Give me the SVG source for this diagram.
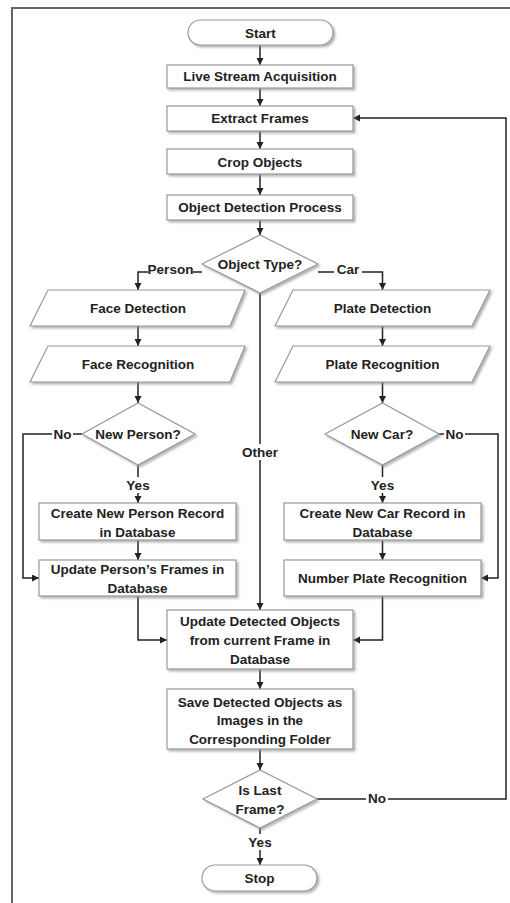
<svg xmlns="http://www.w3.org/2000/svg" width="510" height="903" viewBox="0 0 510 903">
<style>
.shape{fill:#fff;stroke:#999;stroke-width:1.2;filter:url(#sh)}
.t{font-family:"Liberation Sans",Arial,sans-serif;font-weight:bold;font-size:13.5px;fill:#222;text-anchor:middle}
.c{fill:none;stroke:#222;stroke-width:1.5}
.a{marker-end:url(#ar)}
.lb{fill:#fff}
</style>
<defs>
<filter id="sh" x="-10%" y="-10%" width="130%" height="140%">
<feDropShadow dx="2" dy="2" stdDeviation="1" flood-color="#888" flood-opacity="0.6"/>
</filter>
<marker id="ar" markerUnits="userSpaceOnUse" markerWidth="8" markerHeight="8" refX="7" refY="3.5" orient="auto">
<path d="M0,0 L7,3.5 L0,7 z" fill="#222"/>
</marker>
</defs>
<rect x="12" y="8" width="520" height="920" fill="#fff" stroke="#666" stroke-width="2"/>

<g id="connectors">
<path class="c a" d="M260,45 V65"/>
<path class="c a" d="M260,88 V106"/>
<path class="c a" d="M260,131 V149"/>
<path class="c a" d="M260,174 V195"/>
<path class="c a" d="M260,220 V235"/>
<path class="c a" d="M202,272 H138 V290"/>
<path class="c a" d="M318,272 H382.5 V290"/>
<path class="c a" d="M260,293 V610"/>
<path class="c a" d="M138,326 V346"/>
<path class="c a" d="M138,382 V403"/>
<path class="c a" d="M382.5,326 V346"/>
<path class="c a" d="M382.5,382 V403"/>
<path class="c a" d="M82,434 H23 V578 H39"/>
<path class="c a" d="M138,465 V503"/>
<path class="c a" d="M138,540 V560"/>
<path class="c a" d="M439,434 H498 V578 H481"/>
<path class="c a" d="M382.5,465 V503"/>
<path class="c a" d="M382.5,540 V560"/>
<path class="c a" d="M138,596 V640 H167"/>
<path class="c a" d="M382.5,596 V640 H353"/>
<path class="c a" d="M260,669 V689"/>
<path class="c a" d="M260,749 V770"/>
<path class="c a" d="M260,828 V865"/>
<path class="c a" d="M317,799 H506 V118 H353"/>
<g id="labels">
<rect class="lb" x="148" y="262" width="45" height="16"/><text class="t" x="170.5" y="274">Person</text>
<rect class="lb" x="334" y="262" width="28" height="16"/><text class="t" x="348" y="274">Car</text>
<rect class="lb" x="240" y="444" width="40" height="16"/><text class="t" x="260" y="457">Other</text>
<rect class="lb" x="52" y="427" width="21" height="15"/><text class="t" x="62.5" y="439">No</text>
<rect class="lb" x="444" y="427" width="21" height="15"/><text class="t" x="454.5" y="439">No</text>
<rect class="lb" x="124" y="477" width="28" height="16"/><text class="t" x="138" y="490">Yes</text>
<rect class="lb" x="368.5" y="477" width="28" height="16"/><text class="t" x="382.5" y="490">Yes</text>
<rect class="lb" x="366" y="791" width="22" height="15"/><text class="t" x="377" y="803">No</text>
<rect class="lb" x="246" y="834" width="28" height="16"/><text class="t" x="260" y="847">Yes</text>
</g>
</g>

<g id="start"><rect class="shape" x="188" y="20" width="145" height="25" rx="12.5"/><text class="t" x="260.5" y="38">Start</text></g>
<g id="live"><rect class="shape" x="167" y="65" width="186" height="23"/><text class="t" x="260" y="81">Live Stream Acquisition</text></g>
<g id="extract"><rect class="shape" x="167" y="106" width="186" height="25"/><text class="t" x="260" y="123">Extract Frames</text></g>
<g id="crop"><rect class="shape" x="167" y="149" width="186" height="25"/><text class="t" x="260" y="167">Crop Objects</text></g>
<g id="odp"><rect class="shape" x="167" y="195" width="186" height="25"/><text class="t" x="260" y="212">Object Detection Process</text></g>
<g id="objtype"><polygon class="shape" points="260,235 318,264 260,293 202,264"/><text class="t" x="260" y="269">Object Type?</text></g>
<g id="facedet"><polygon class="shape" points="48,290 245,290 230,326 30,326"/><text class="t" x="138" y="313">Face Detection</text></g>
<g id="facerec"><polygon class="shape" points="48,346 245,346 230,382 30,382"/><text class="t" x="138" y="369">Face Recognition</text></g>
<g id="platedet"><polygon class="shape" points="293,290 490,290 472,326 275,326"/><text class="t" x="382.5" y="313">Plate Detection</text></g>
<g id="platerec"><polygon class="shape" points="293,346 490,346 472,382 275,382"/><text class="t" x="382.5" y="369">Plate Recognition</text></g>
<g id="newperson"><polygon class="shape" points="138,403 195,434 138,465 82,434"/><text class="t" x="138" y="439">New Person?</text></g>
<g id="newcar"><polygon class="shape" points="382.5,403 439,434 382.5,465 325,434"/><text class="t" x="382" y="439">New Car?</text></g>
<g id="createperson"><rect class="shape" x="39" y="503" width="197" height="37"/><text class="t" x="137.5" y="518">Create New Person Record</text><text class="t" x="137.5" y="537">in Database</text></g>
<g id="updateperson"><rect class="shape" x="39" y="560" width="197" height="36"/><text class="t" x="137.5" y="574">Update Person’s Frames in</text><text class="t" x="137.5" y="593">Database</text></g>
<g id="createcar"><rect class="shape" x="284" y="503" width="197" height="37"/><text class="t" x="382.5" y="518">Create New Car Record in</text><text class="t" x="382.5" y="537">Database</text></g>
<g id="npr"><rect class="shape" x="284" y="560" width="197" height="36"/><text class="t" x="382.5" y="583">Number Plate Recognition</text></g>
<g id="udo"><rect class="shape" x="167" y="610" width="186" height="59"/><text class="t" x="260" y="626">Update Detected Objects</text><text class="t" x="260" y="645">from current Frame in</text><text class="t" x="260" y="664">Database</text></g>
<g id="save"><rect class="shape" x="167" y="689" width="186" height="60"/><text class="t" x="260" y="707">Save Detected Objects as</text><text class="t" x="260" y="725">Images in the</text><text class="t" x="260" y="744">Corresponding Folder</text></g>
<g id="islast"><polygon class="shape" points="260,770 317,799 260,828 203,799"/><text class="t" x="260" y="795">Is Last</text><text class="t" x="260" y="814">Frame?</text></g>
<g id="stop"><rect class="shape" x="202" y="865" width="115" height="26" rx="13"/><text class="t" x="259.5" y="883">Stop</text></g>
</svg>
